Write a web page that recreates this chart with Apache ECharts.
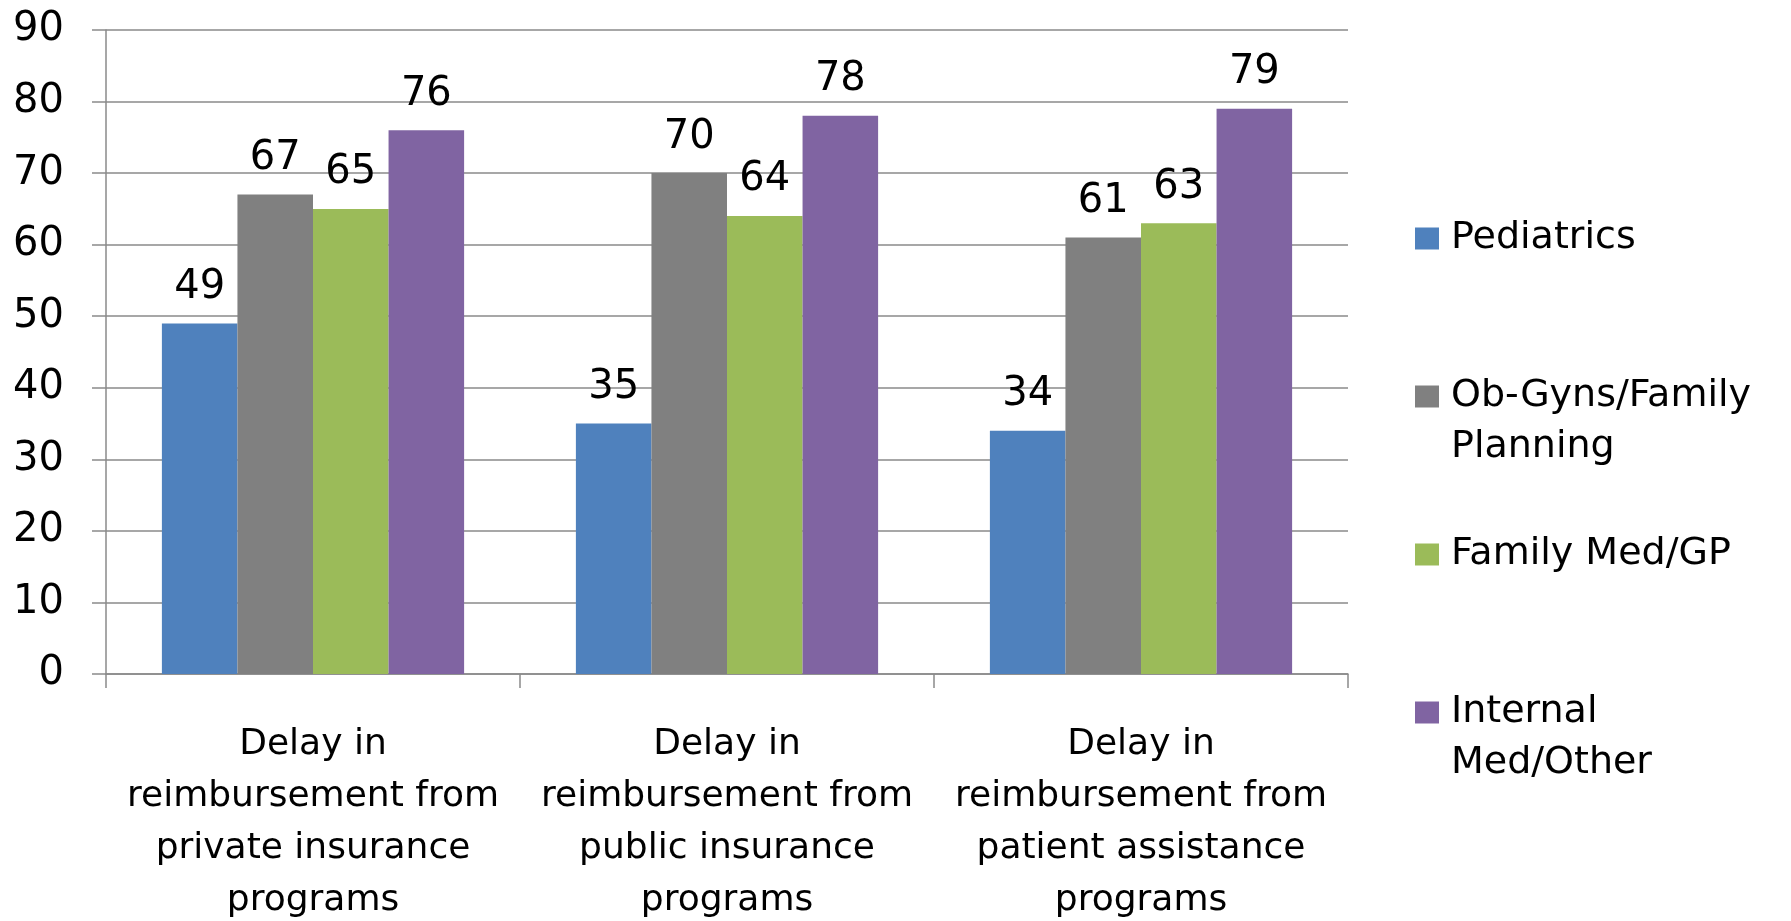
<!DOCTYPE html>
<html>
<head>
<meta charset="utf-8">
<script src="https://cdn.jsdelivr.net/npm/echarts@6/dist/echarts.min.js"></script>
<style>
html,body{margin:0;padding:0;background:#fff;}
#chart{width:1791px;height:921px;}
</style>
</head>
<body>
<div id="chart"></div>
<script>
const categories = [
  "Delay in\nreimbursement from\nprivate insurance\nprograms",
  "Delay in\nreimbursement from\npublic insurance\nprograms",
  "Delay in\nreimbursement from\npatient assistance\nprograms"
];
const seriesNames = ["Pediatrics", "Ob-Gyns/Family Planning", "Family Med/GP", "Internal Med/Other"];
const legendLabels = ["Pediatrics", "Ob-Gyns/Family\nPlanning", "Family Med/GP", "Internal\nMed/Other"];
const pediatrics = [49, 35, 34];
const obGyns = [67, 70, 61];
const familyMed = [65, 64, 63];
const internalMed = [76, 78, 79];
const yTicks = [0, 10, 20, 30, 40, 50, 60, 70, 80, 90];

const colors = ["#4F81BD", "#808080", "#9BBB59", "#8064A2"];
const values = [pediatrics, obGyns, familyMed, internalMed];
const FONT = "DejaVu Sans";
const LH = 51;
const LINE = '#8a8a8a';

const chart = echarts.init(document.getElementById('chart'), null, {renderer: 'canvas'});
const option = {
  animation: false,
  backgroundColor: '#fff',
  textStyle: {fontFamily: FONT},
  grid: {left: 106, right: 443, top: 30, bottom: 247, containLabel: false, outerBoundsMode: 'none'},
  legend: {
    orient: 'vertical',
    left: 1415,
    top: 213,
    padding: 0,
    itemWidth: 24,
    itemHeight: 22,
    itemGap: 56,
    icon: 'rect',
    selectedMode: false,
    formatter: function (name) {
      const lbl = legendLabels[seriesNames.indexOf(name)];
      // two-line entries: keep the marker level with the first line
      return lbl.indexOf('\n') >= 0 ? '\n' + lbl : lbl;
    },
    textStyle: {fontFamily: FONT, fontSize: 38, color: '#000', lineHeight: LH, padding: [0, 0, 0, 7]}
  },
  xAxis: {
    type: 'category',
    data: categories,
    axisLine: {show: true, lineStyle: {color: LINE, width: 1.5}},
    axisTick: {show: true, length: 14, lineStyle: {color: LINE, width: 1.5}},
    axisLabel: {
      interval: 0, margin: 45, fontSize: 36, lineHeight: 52, color: '#000',
      fontFamily: FONT, align: 'center'
    },
    splitLine: {show: false}
  },
  yAxis: {
    type: 'value',
    min: 0, max: 90, interval: 10,
    axisLine: {show: true, lineStyle: {color: LINE, width: 1.5}},
    axisTick: {show: true, length: 14, lineStyle: {color: LINE, width: 1.5}},
    axisLabel: {margin: 42, fontSize: 40, color: '#000', fontFamily: FONT,
      formatter: function (v) { return yTicks.indexOf(v) >= 0 ? String(v) : ''; }},
    splitLine: {show: true, lineStyle: {color: LINE, width: 1.5}}
  },
  series: seriesNames.map(function (n, i) {
    return {
      name: n,
      type: 'bar',
      data: values[i],
      barGap: '0%',
      barCategoryGap: '27%',
      itemStyle: {color: colors[i]},
      label: {show: true, position: 'top', distance: 16, fontSize: 40, color: '#000', fontFamily: FONT},
      z: 2
    };
  })
};
chart.setOption(option);
</script>
</body>
</html>
